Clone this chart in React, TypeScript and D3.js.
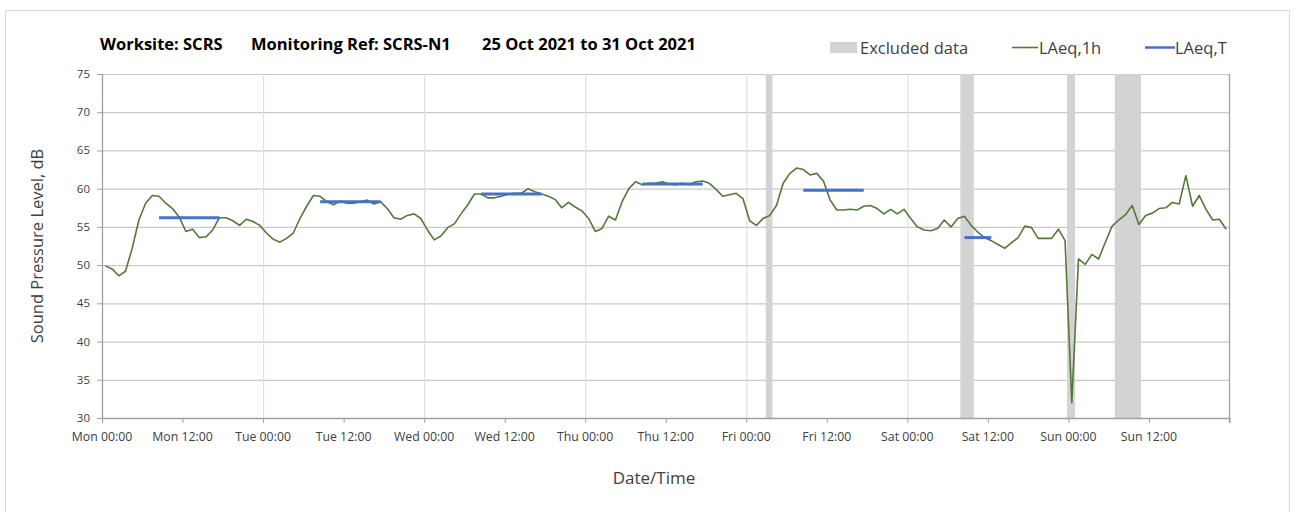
import * as d3 from 'd3';
import { useEffect, useRef } from 'react';

const startDate = new Date(2021, 9, 25, 0, 0);

// LAeq,1h values, one per hour from Mon 00:00
const hourlyLevels = [
  49.9, 49.5, 48.6, 49.2, 52.2, 55.9, 58.1, 59.1, 59.0, 58.1, 57.4, 56.3, 54.4, 54.7, 53.6, 53.7, 54.6, 56.2, 56.2, 55.8, 55.2, 56.0, 55.7, 55.2,
  54.2, 53.4, 53.0, 53.5, 54.2, 56.1, 57.7, 59.1, 59.0, 58.3, 57.9, 58.4, 58.1, 58.1, 58.3, 58.5, 58.0, 58.3, 57.4, 56.2, 56.0, 56.5, 56.7, 56.1,
  54.6, 53.3, 53.8, 54.9, 55.4, 56.7, 57.9, 59.3, 59.3, 58.8, 58.8, 59.0, 59.3, 59.4, 59.4, 60.0, 59.6, 59.3, 59.0, 58.6, 57.5, 58.2, 57.6, 57.1,
  56.1, 54.4, 54.8, 56.4, 55.9, 58.3, 60.0, 60.9, 60.5, 60.7, 60.7, 60.9, 60.6, 60.5, 60.7, 60.5, 60.9, 61.0, 60.7, 59.9, 59.0, 59.2, 59.4, 58.7,
  55.8, 55.2, 56.1, 56.5, 57.8, 60.7, 62.0, 62.7, 62.5, 61.8, 62.0, 61.0, 58.5, 57.2, 57.2, 57.3, 57.2, 57.7, 57.8, 57.4, 56.7, 57.3, 56.7, 57.3,
  56.1, 55.0, 54.6, 54.5, 54.8, 55.9, 55.0, 56.1, 56.4, 55.2, 54.3, 53.6, 53.2, 52.7, 52.2, 52.9, 53.6, 55.1, 54.9, 53.5, 53.5, 53.5, 54.7, 53.2,
  32.0, 50.8, 50.1, 51.4, 50.8, 53.0, 55.1, 55.9, 56.6, 57.8, 55.3, 56.5, 56.8, 57.4, 57.5, 58.2, 58.0, 61.7, 57.7, 59.1, 57.3, 55.9, 56.0, 54.7,
];

// LAeq,T periods: first and last hour index, level
const periodStartHours = [8, 32, 56, 80, 104, 128];
const periodEndHours = [17, 41, 65, 89, 113, 132];
const periodLevels = [56.2, 58.3, 59.3, 60.6, 59.8, 53.6];

// excluded data ranges, hours from Mon 00:00
const excludedStart = [98.9, 127.9, 143.8, 150.9];
const excludedEnd = [99.9, 129.9, 145.0, 154.8];

const yTicks = [30, 35, 40, 45, 50, 55, 60, 65, 70, 75];
const font = '"Open Sans", "DejaVu Sans", sans-serif';

const atHour = (h: number) => d3.timeMinute.offset(startDate, Math.round(h * 60));

function App() {
  const svgRef = useRef<SVGSVGElement | null>(null);

  useEffect(() => {
    if (!svgRef.current) return;
    const width = 1295;
    const height = 512;
    const margin = { top: 74, right: 66, bottom: 94, left: 102 };
    const innerWidth = width - margin.left - margin.right + 0.5;
    const innerHeight = height - margin.top - margin.bottom;

    const x = d3.scaleTime().domain([startDate, atHour(168)]).range([0, innerWidth]);
    const y = d3.scaleLinear().domain([30, 75]).range([innerHeight, 0]);

    const svg = d3.select(svgRef.current);
    svg.selectAll('*').remove();

    svg.append('rect').attr('width', width).attr('height', height).attr('fill', '#fff');
    svg
      .append('rect')
      .attr('x', 5.5)
      .attr('y', 10.5)
      .attr('width', 1284)
      .attr('height', 520)
      .attr('fill', 'none')
      .attr('stroke', '#d9d9d9');

    const root = svg.append('g').attr('transform', `translate(${margin.left},${margin.top})`);

    // horizontal grid
    root
      .append('g')
      .selectAll('line')
      .data(yTicks.slice(1))
      .join('line')
      .attr('x1', 0)
      .attr('x2', innerWidth)
      .attr('y1', (d) => y(d) + 0.5)
      .attr('y2', (d) => y(d) + 0.5)
      .attr('stroke', '#c9c9c9')
      .attr('stroke-width', 1.2);

    // vertical day grid
    const dayTicks = d3.timeDay.range(d3.timeDay.offset(startDate, 1), d3.timeDay.offset(startDate, 7));
    root
      .append('g')
      .selectAll('line')
      .data(dayTicks)
      .join('line')
      .attr('x1', (d) => x(d) + 0.5)
      .attr('x2', (d) => x(d) + 0.5)
      .attr('y1', 0)
      .attr('y2', innerHeight)
      .attr('stroke', '#e0e0e0')
      .attr('stroke-width', 1.2);

    // excluded bands
    root
      .append('g')
      .selectAll('rect')
      .data(excludedStart.map((s, i) => [s, excludedEnd[i]]))
      .join('rect')
      .attr('x', (d) => x(atHour(d[0])))
      .attr('width', (d) => x(atHour(d[1])) - x(atHour(d[0])))
      .attr('y', 0)
      .attr('height', innerHeight)
      .attr('fill', '#d3d3d3');

    // axes
    const axisColor = '#a0a0a0';
    root
      .append('line')
      .attr('x1', 0.5)
      .attr('x2', 0.5)
      .attr('y1', 0)
      .attr('y2', innerHeight)
      .attr('stroke', axisColor)
      .attr('stroke-width', 1.3);
    root
      .append('line')
      .attr('x1', innerWidth)
      .attr('x2', innerWidth)
      .attr('y1', 0)
      .attr('y2', innerHeight + 5)
      .attr('stroke', axisColor)
      .attr('stroke-width', 1.3);
    root
      .append('line')
      .attr('x1', 0)
      .attr('x2', innerWidth)
      .attr('y1', innerHeight + 0.5)
      .attr('y2', innerHeight + 0.5)
      .attr('stroke', axisColor)
      .attr('stroke-width', 1.3);

    const yAxis = root.append('g');
    yAxis
      .selectAll('line')
      .data(yTicks)
      .join('line')
      .attr('x1', -5)
      .attr('x2', 0)
      .attr('y1', (d) => y(d) + 0.5)
      .attr('y2', (d) => y(d) + 0.5)
      .attr('stroke', axisColor);
    yAxis
      .selectAll('text')
      .data(yTicks)
      .join('text')
      .attr('x', -12)
      .attr('y', (d) => y(d) + 4)
      .attr('text-anchor', 'end')
      .attr('font-family', font)
      .attr('font-size', 11.5)
      .attr('fill', '#404040')
      .text((d) => d);

    const xTicks = d3.timeHour.every(12)!.range(startDate, atHour(168.5));
    const xAxis = root.append('g');
    xAxis
      .selectAll('line')
      .data(xTicks)
      .join('line')
      .attr('x1', (d) => x(d) + 0.5)
      .attr('x2', (d) => x(d) + 0.5)
      .attr('y1', innerHeight)
      .attr('y2', innerHeight + 5)
      .attr('stroke', axisColor);
    const fmt = d3.timeFormat('%a %H:%M');
    xAxis
      .selectAll('text')
      .data(xTicks.slice(0, -1))
      .join('text')
      .attr('x', (d) => x(d))
      .attr('y', innerHeight + 23)
      .attr('text-anchor', 'middle')
      .attr('font-family', font)
      .attr('font-size', 12.3)
      .attr('fill', '#404040')
      .text((d) => fmt(d));

    // LAeq,1h line
    const line = d3
      .line<number>()
      .x((_, i) => x(atHour(i + 0.5)))
      .y((d) => y(d));
    root
      .append('path')
      .datum(hourlyLevels)
      .attr('fill', 'none')
      .attr('stroke', '#557838')
      .attr('stroke-width', 1.6)
      .attr('stroke-linejoin', 'round')
      .attr('d', line);

    // LAeq,T segments
    root
      .append('g')
      .selectAll('line')
      .data(periodLevels.map((v, i) => ({ v, s: periodStartHours[i], e: periodEndHours[i] })))
      .join('line')
      .attr('x1', (d) => x(atHour(d.s + 0.5)))
      .attr('x2', (d) => x(atHour(d.e + 0.5)))
      .attr('y1', (d) => y(d.v))
      .attr('y2', (d) => y(d.v))
      .attr('stroke', '#4472c4')
      .attr('stroke-width', 3);

    // axis titles
    svg
      .append('text')
      .attr('transform', `translate(43,${margin.top + innerHeight / 2}) rotate(-90)`)
      .attr('text-anchor', 'middle')
      .attr('font-family', font)
      .attr('font-size', 16.5)
      .attr('fill', '#404040')
      .text('Sound Pressure Level, dB');
    svg
      .append('text')
      .attr('x', 654)
      .attr('y', 484)
      .attr('text-anchor', 'middle')
      .attr('font-family', font)
      .attr('font-size', 17)
      .attr('fill', '#404040')
      .text('Date/Time');

    // title
    const titleParts = [
      { text: 'Worksite: SCRS', x: 100 },
      { text: 'Monitoring Ref: SCRS-N1', x: 251 },
      { text: '25 Oct 2021 to 31 Oct 2021', x: 482 },
    ];
    svg
      .append('g')
      .selectAll('text')
      .data(titleParts)
      .join('text')
      .attr('x', (d) => d.x)
      .attr('y', 50)
      .attr('font-family', font)
      .attr('font-weight', 'bold')
      .attr('font-size', 16.5)
      .attr('fill', '#000')
      .text((d) => d.text);

    // legend
    const legend = svg.append('g').attr('font-family', font).attr('font-size', 16.5).attr('fill', '#404040');
    legend.append('rect').attr('x', 830).attr('y', 42).attr('width', 27).attr('height', 11).attr('fill', '#d3d3d3');
    legend.append('text').attr('x', 860).attr('y', 54).text('Excluded data');
    legend.append('line').attr('x1', 1012).attr('x2', 1038).attr('y1', 47.5).attr('y2', 47.5).attr('stroke', '#557838').attr('stroke-width', 1.6);
    legend.append('text').attr('x', 1039).attr('y', 54).text('LAeq,1h');
    legend.append('line').attr('x1', 1145).attr('x2', 1175).attr('y1', 47.5).attr('y2', 47.5).attr('stroke', '#4472c4').attr('stroke-width', 2.5);
    legend.append('text').attr('x', 1175).attr('y', 54).text('LAeq,T');
  }, []);

  return (
    <svg
      ref={svgRef}
      width={1295}
      height={512}
      style={{ position: 'absolute', left: 0, top: 0, display: 'block' }}
    />
  );
}

export default App;
